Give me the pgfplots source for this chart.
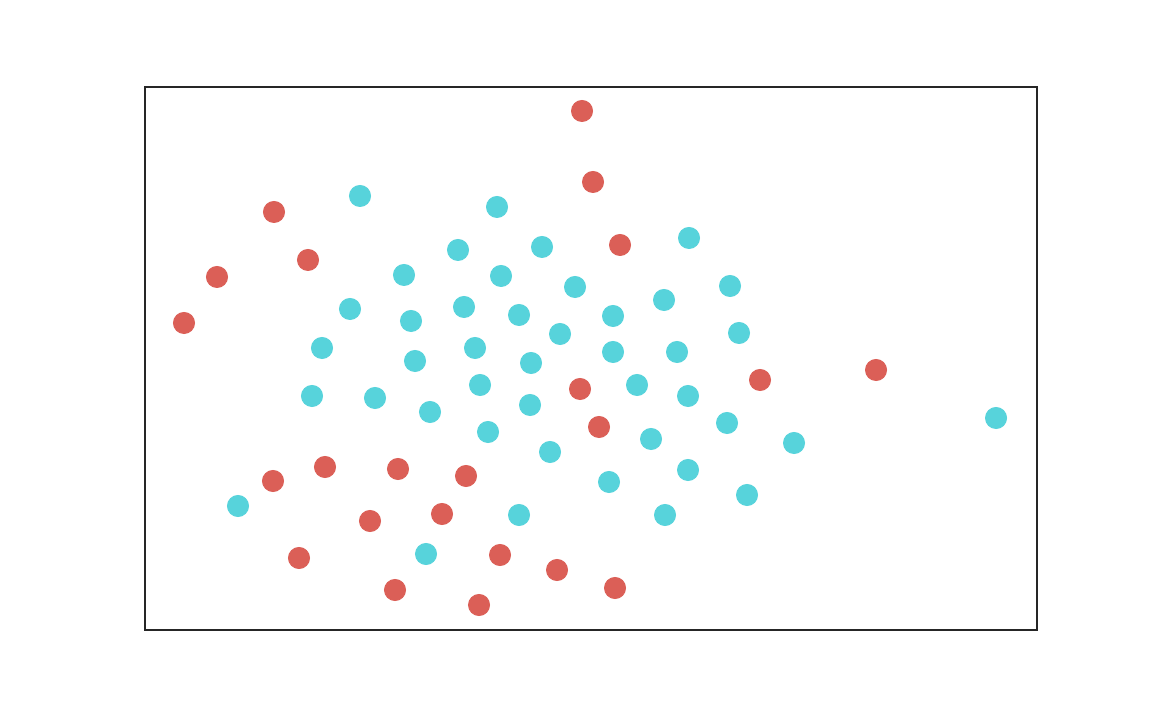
\documentclass[border=0pt]{standalone}
\usepackage{pgfplots}
\pgfplotsset{compat=1.18}
\definecolor{ptred}{HTML}{DB5F57}
\definecolor{ptcyan}{HTML}{57D3DB}
\definecolor{frame}{HTML}{262626}

\begin{document}
\begin{tikzpicture}
% 1 px of the 1152x720 reference = 16cm/1152
\path[use as bounding box] (-2.0139cm,-1.25cm) rectangle (13.986cm,8.75cm);
\begin{axis}[
  at={(0,0)}, anchor=south west,
  scale only axis, width=12.389cm, height=7.542cm,
  xmin=145, xmax=1037, ymin=87, ymax=630, y dir=reverse,
  xtick=\empty, ytick=\empty,
  axis line style={frame, line width=0.45pt}]
\addplot[only marks, mark=*, mark size=4.15pt, mark options={fill=ptred, draw=ptred}] coordinates {
 (582,111) (593,182) (274,212) (308,260) (217,277) (620,245) (184,323)
 (876,370) (760,380) (580,389) (599,427) (325,467) (398,469) (466,476)
 (273,481) (442,514) (370,521) (299,558) (500,555) (557,570) (615,588)
 (395,590) (479,605)};
\addplot[only marks, mark=*, mark size=4.15pt, mark options={fill=ptcyan, draw=ptcyan}] coordinates {
 (360,196) (497,207) (689,238) (458,250) (542,247) (404,275) (501,276)
 (575,287) (730,286) (664,300) (350,309) (464,307) (411,321) (519,315)
 (613,316) (560,334) (739,333) (322,348) (475,348) (415,361) (531,363)
 (613,352) (677,352) (480,385) (637,385) (312,396) (375,398) (688,396)
 (430,412) (530,405) (996,418) (727,423) (488,432) (651,439) (794,443)
 (550,452) (688,470) (609,482) (747,495) (238,506) (519,515) (665,515)
 (426,554)};
\end{axis}
\end{tikzpicture}
\end{document}
